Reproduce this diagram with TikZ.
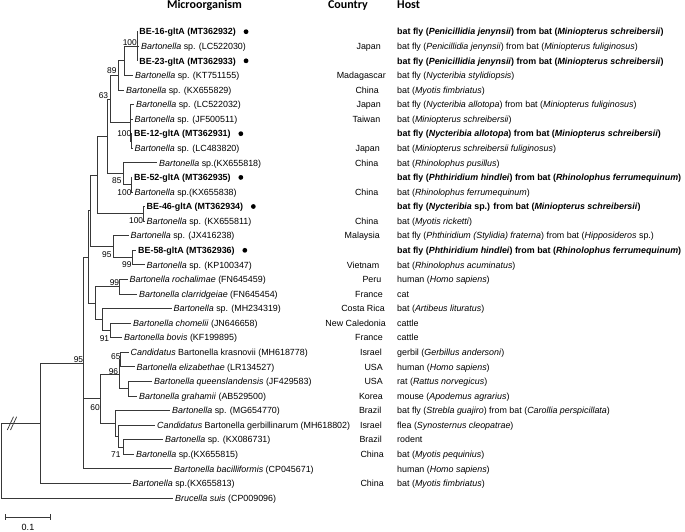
\documentclass[tikz,border=0pt]{standalone}
\usepackage{fontspec}
\setmainfont{Liberation Sans}
\newfontfamily\hdrfont{Carlito}
\begin{document}
\begin{tikzpicture}[x=1pt,y=-1pt,
  br/.style={draw=black!78, line width=0.75pt},
  leaf/.style={anchor=west, inner xsep=2pt, inner ysep=0pt, text height=8.2pt, text depth=1.8pt, font=\fontsize{8.9}{10}\selectfont},
  ctry/.style={anchor=east, inner sep=0pt, text height=8.2pt, text depth=1.8pt, font=\fontsize{8.9}{10}\selectfont},
  host/.style={anchor=west, inner sep=0pt, text height=8.2pt, text depth=1.8pt, font=\fontsize{8.9}{10}\selectfont},
  bs/.style={anchor=base east, inner sep=0pt, font=\fontsize{8.4}{10}\selectfont},
  hdr/.style={anchor=base, inner sep=0pt, font=\hdrfont\bfseries\fontsize{12}{14}\selectfont},
  dotmark/.style={fill=black}
]
\useasboundingbox (0,0) rectangle (685,531);

% headers
\node[hdr] (h1) at (204.5,8.5) {Microorganism};
\node[hdr] (h2) at (348,8.5) {Country};
\node[hdr, anchor=base west] (h3) at (397,8.5) {Host};

% leaves
\node[leaf] (l1) at (137.2,31.7) {\textbf{BE-16-gltA (MT362932)}};
\node[leaf] (l2) at (139,46.3) {\textit{Bartonella} sp. (LC522030)};
\node[leaf] (l3) at (137.2,60.8) {\textbf{BE-23-gltA (MT362933)}};
\node[leaf] (l4) at (133,75.4) {\textit{Bartonella} sp. (KT751155)};
\node[leaf] (l5) at (124,90.0) {\textit{Bartonella} sp. (KX655829)};
\node[leaf] (l6) at (134,104.6) {\textit{Bartonella} sp. (LC522032)};
\node[leaf] (l7) at (132.5,119.1) {\textit{Bartonella} sp. (JF500511)};
\node[leaf] (l8) at (132,133.7) {\textbf{BE-12-gltA (MT362931)}};
\node[leaf] (l9) at (132.5,148.3) {\textit{Bartonella} sp. (LC483820)};
\node[leaf] (l10) at (157,162.8) {\textit{Bartonella} sp.(KX655818)};
\node[leaf] (l11) at (132,177.4) {\textbf{BE-52-gltA (MT362935)}};
\node[leaf] (l12) at (132.5,192.0) {\textit{Bartonella} sp.(KX655838)};
\node[leaf] (l13) at (144.5,206.5) {\textbf{BE-46-gltA (MT362934)}};
\node[leaf] (l14) at (144.5,221.1) {\textit{Bartonella} sp. (KX655811)};
\node[leaf] (l15) at (128.5,235.7) {\textit{Bartonella} sp. (JX416238)};
\node[leaf] (l16) at (136,250.3) {\textbf{BE-58-gltA (MT362936)}};
\node[leaf] (l17) at (144.5,264.8) {\textit{Bartonella} sp. (KP100347)};
\node[leaf] (l18) at (127.5,279.4) {\textit{Bartonella rochalimae} (FN645459)};
\node[leaf] (l19) at (137,294.0) {\textit{Bartonella clarridgeiae} (FN645454)};
\node[leaf] (l20) at (171.5,308.5) {\textit{Bartonella} sp. (MH234319)};
\node[leaf] (l21) at (131,323.1) {\textit{Bartonella chomelii} (JN646658)};
\node[leaf] (l22) at (122,337.7) {\textit{Bartonella bovis} (KF199895)};
\node[leaf] (l23) at (128.5,352.2) {\textit{Candidatus} Bartonella krasnovii (MH618778)};
\node[leaf] (l24) at (134.5,366.8) {\textit{Bartonella elizabethae} (LR134527)};
\node[leaf] (l25) at (152,381.4) {\textit{Bartonella queenslandensis} (JF429583)};
\node[leaf] (l26) at (137,395.9) {\textit{Bartonella grahamii} (AB529500)};
\node[leaf] (l27) at (170,410.5) {\textit{Bartonella} sp. (MG654770)};
\node[leaf] (l28) at (155,425.1) {\textit{Candidatus} Bartonella gerbillinarum (MH618802)};
\node[leaf] (l29) at (163,439.6) {\textit{Bartonella} sp. (KX086731)};
\node[leaf] (l30) at (134,454.2) {\textit{Bartonella} sp.(KX655815)};
\node[leaf] (l31) at (172,468.8) {\textit{Bartonella bacilliformis} (CP045671)};
\node[leaf] (l32) at (130.5,483.4) {\textit{Bartonella} sp.(KX655813)};
\node[leaf] (l33) at (173,497.9) {\textit{Brucella suis} (CP009096)};

% bullets for new sequences
\foreach \n in {l1,l3,l8,l11,l13,l16} \fill[dotmark] ([xshift=8pt]\n.east) circle (2.4pt);

% internal nodes
\coordinate (A) at (137,46.3);
\coordinate (B) at (124,60.8);
\coordinate (C) at (118,75.4);
\coordinate (E2) at (131.3,141.0);
\coordinate (E1) at (130.3,122.8);
\coordinate (D) at (110,99.1);
\coordinate (H) at (131,184.7);
\coordinate (G) at (123,173.75);
\coordinate (F) at (107,136.4);
\coordinate (J) at (143,213.8);
\coordinate (I) at (97,175.1);
\coordinate (L) at (132,257.55);
\coordinate (K) at (113,246.6);
\coordinate (M) at (90,210.85);
\coordinate (S) at (119,286.7);
\coordinate (U) at (110,330.4);
\coordinate (T) at (102,319.45);
\coordinate (P) at (95,303.08);
\coordinate (V) at (88,256.97);
\coordinate (Y) at (120.5,359.5);
\coordinate (Z) at (128,388.65);
\coordinate (X) at (119,374.08);
\coordinate (CC) at (123,446.9);
\coordinate (BB) at (118,436.0);
\coordinate (AA) at (115,423.25);
\coordinate (W) at (100,398.67);
\coordinate (Q) at (83,362.9);
\coordinate (R) at (40,423.15);
\coordinate (root) at (1,460.5);

% branches
\draw[br] (A) |- (l1.west) (A) |- (l2.west) (A) |- (l3.west);
\draw[br] (B) |- (A) (B) |- (l4.west);
\draw[br] (C) |- (B) (C) |- (l5.west);
\draw[br] (E2) |- (l8.west) (E2) |- (l9.west);
\draw[br] (E1) |- (l6.west) (E1) |- (l7.west) (E1) |- (E2);
\draw[br] (D) |- (C) (D) |- (E1);
\draw[br] (H) |- (l11.west) (H) |- (l12.west);
\draw[br] (G) |- (l10.west) (G) |- (H);
\draw[br] (F) |- (D) (F) |- (G);
\draw[br] (J) |- (l13.west) (J) |- (l14.west);
\draw[br] (I) |- (F) (I) |- (J);
\draw[br] (L) |- (l16.west) (L) |- (l17.west);
\draw[br] (K) |- (l15.west) (K) |- (L);
\draw[br] (M) |- (I) (M) |- (K);
\draw[br] (S) |- (l18.west) (S) |- (l19.west);
\draw[br] (U) |- (l21.west) (U) |- (l22.west);
\draw[br] (T) |- (l20.west) (T) |- (U);
\draw[br] (P) |- (S) (P) |- (T);
\draw[br] (V) |- (M) (V) |- (P);
\draw[br] (Y) |- (l23.west) (Y) |- (l24.west);
\draw[br] (Z) |- (l25.west) (Z) |- (l26.west);
\draw[br] (X) |- (Y) (X) |- (Z);
\draw[br] (CC) |- (l29.west) (CC) |- (l30.west);
\draw[br] (BB) |- (l28.west) (BB) |- (CC);
\draw[br] (AA) |- (l27.west) (AA) |- (BB);
\draw[br] (W) |- (X) (W) |- (AA);
\draw[br] (Q) |- (V) (Q) |- (W) (Q) |- (l31.west);
\draw[br] (R) |- (Q) (R) |- (l32.west);
\draw[br] (root) |- (R) (root) |- (l33.west);

% break marks on root branch
\draw[br] (7.3,430) -- (13.5,416.7);
\draw[br] (10.5,430) -- (16.7,416.7);

% bootstrap values
\node[bs] (b1) at (137,45) {100};
\node[bs] (b2) at (116.7,73.5) {89};
\node[bs] (b3) at (108.3,98) {63};
\node[bs] (b4) at (131.5,136) {100};
\node[bs] (b5) at (121.7,183.5) {85};
\node[bs] (b6) at (131.7,195) {100};
\node[bs] (b7) at (143.3,223) {100};
\node[bs] (b8) at (111.7,257) {95};
\node[bs] (b9) at (131.7,267.5) {99};
\node[bs] (b10) at (119.3,285) {99};
\node[bs] (b11) at (109.3,341.7) {91};
\node[bs] (b12) at (83.3,362) {95};
\node[bs] (b13) at (120.7,359) {65};
\node[bs] (b14) at (118.3,374) {96};
\node[bs] (b15) at (100,410) {60};
\node[bs] (b16) at (120.7,457) {71};

% scale bar
\coordinate (sb1) at (5,517.3);
\coordinate (sb2) at (50.7,517.3);
\draw[br] (sb1) -- (sb2);
\draw[br] (5,514.3) -- (5,520.3);
\draw[br] (50.7,514.3) -- (50.7,520.3);
\node[anchor=base, inner sep=0pt, font=\fontsize{9}{10}\selectfont] (sbl) at (28,530) {0.1};

% countries
\node[ctry] (c2) at (381,46.3) {Japan};
\node[ctry] (c4) at (386,75.4) {Madagascar};
\node[ctry] (c5) at (379,90.0) {China};
\node[ctry] (c6) at (381,104.6) {Japan};
\node[ctry] (c7) at (380.5,119.1) {Taiwan};
\node[ctry] (c9) at (380,148.3) {Japan};
\node[ctry] (c10) at (378.5,162.8) {China};
\node[ctry] (c12) at (378.5,192.0) {China};
\node[ctry] (c14) at (378.5,221.1) {China};
\node[ctry] (c15) at (380,235.7) {Malaysia};
\node[ctry] (c17) at (379.5,264.8) {Vietnam};
\node[ctry] (c18) at (381.5,279.4) {Peru};
\node[ctry] (c19) at (383,294.0) {France};
\node[ctry] (c20) at (385,308.5) {Costa Rica};
\node[ctry] (c21) at (386,323.1) {New Caledonia};
\node[ctry] (c22) at (383,337.7) {France};
\node[ctry] (c23) at (382,352.2) {Israel};
\node[ctry] (c24) at (383,366.8) {USA};
\node[ctry] (c25) at (383,381.4) {USA};
\node[ctry] (c26) at (383,395.9) {Korea};
\node[ctry] (c27) at (381.5,410.5) {Brazil};
\node[ctry] (c28) at (382,425.1) {Israel};
\node[ctry] (c29) at (382,439.6) {Brazil};
\node[ctry] (c30) at (384,454.2) {China};
\node[ctry] (c32) at (384,483.4) {China};

% hosts
\node[host] (s1) at (397,31.7) {\bfseries bat fly (\textit{Penicillidia jenynsii}) from bat (\textit{Miniopterus schreibersii})};
\node[host] (s2) at (397,46.3) {bat fly (\textit{Penicillidia jenynsii}) from bat (\textit{Miniopterus fuliginosus})};
\node[host] (s3) at (397,60.8) {\bfseries bat fly (\textit{Penicillidia jenynsii}) from bat (\textit{Miniopterus schreibersii})};
\node[host] (s4) at (397,75.4) {bat fly (\textit{Nycteribia stylidiopsis})};
\node[host] (s5) at (397,90.0) {bat (\textit{Myotis fimbriatus})};
\node[host] (s6) at (397,104.6) {bat fly (\textit{Nycteribia allotopa}) from bat (\textit{Miniopterus fuliginosus})};
\node[host] (s7) at (397,119.1) {bat (\textit{Miniopterus schreibersii})};
\node[host] (s8) at (397,133.7) {\bfseries bat fly (\textit{Nycteribia allotopa}) from bat (\textit{Miniopterus schreibersii})};
\node[host] (s9) at (397,148.3) {bat (\textit{Miniopterus schreibersii fuliginosus})};
\node[host] (s10) at (397,162.8) {bat (\textit{Rhinolophus pusillus})};
\node[host] (s11) at (397,177.4) {\bfseries bat fly (\textit{Phthiridium hindlei}) from bat (\textit{Rhinolophus ferrumequinum})};
\node[host] (s12) at (397,192.0) {bat (\textit{Rhinolophus ferrumequinum})};
\node[host] (s13) at (397,206.5) {\bfseries bat fly (\textit{Nycteribia} sp.) from bat (\textit{Miniopterus schreibersii})};
\node[host] (s14) at (397,221.1) {bat (\textit{Myotis ricketti})};
\node[host] (s15) at (397,235.7) {bat fly (\textit{Phthiridium (Stylidia) fraterna}) from bat (\textit{Hipposideros} sp.)};
\node[host] (s16) at (397,250.3) {\bfseries bat fly (\textit{Phthiridium hindlei}) from bat (\textit{Rhinolophus ferrumequinum})};
\node[host] (s17) at (397,264.8) {bat (\textit{Rhinolophus acuminatus})};
\node[host] (s18) at (397,279.4) {human (\textit{Homo sapiens})};
\node[host] (s19) at (397,294.0) {cat};
\node[host] (s20) at (397,308.5) {bat (\textit{Artibeus lituratus})};
\node[host] (s21) at (397,323.1) {cattle};
\node[host] (s22) at (397,337.7) {cattle};
\node[host] (s23) at (397,352.2) {gerbil (\textit{Gerbillus andersoni})};
\node[host] (s24) at (397,366.8) {human (\textit{Homo sapiens})};
\node[host] (s25) at (397,381.4) {rat (\textit{Rattus norvegicus})};
\node[host] (s26) at (397,395.9) {mouse (\textit{Apodemus agrarius})};
\node[host] (s27) at (397,410.5) {bat fly (\textit{Strebla guajiro}) from bat (\textit{Carollia perspicillata})};
\node[host] (s28) at (397,425.1) {flea (\textit{Synosternus cleopatrae})};
\node[host] (s29) at (397,439.6) {rodent};
\node[host] (s30) at (397,454.2) {bat (\textit{Myotis pequinius})};
\node[host] (s31) at (397,468.8) {human (\textit{Homo sapiens})};
\node[host] (s32) at (397,483.4) {bat (\textit{Myotis fimbriatus})};
\end{tikzpicture}
\end{document}
